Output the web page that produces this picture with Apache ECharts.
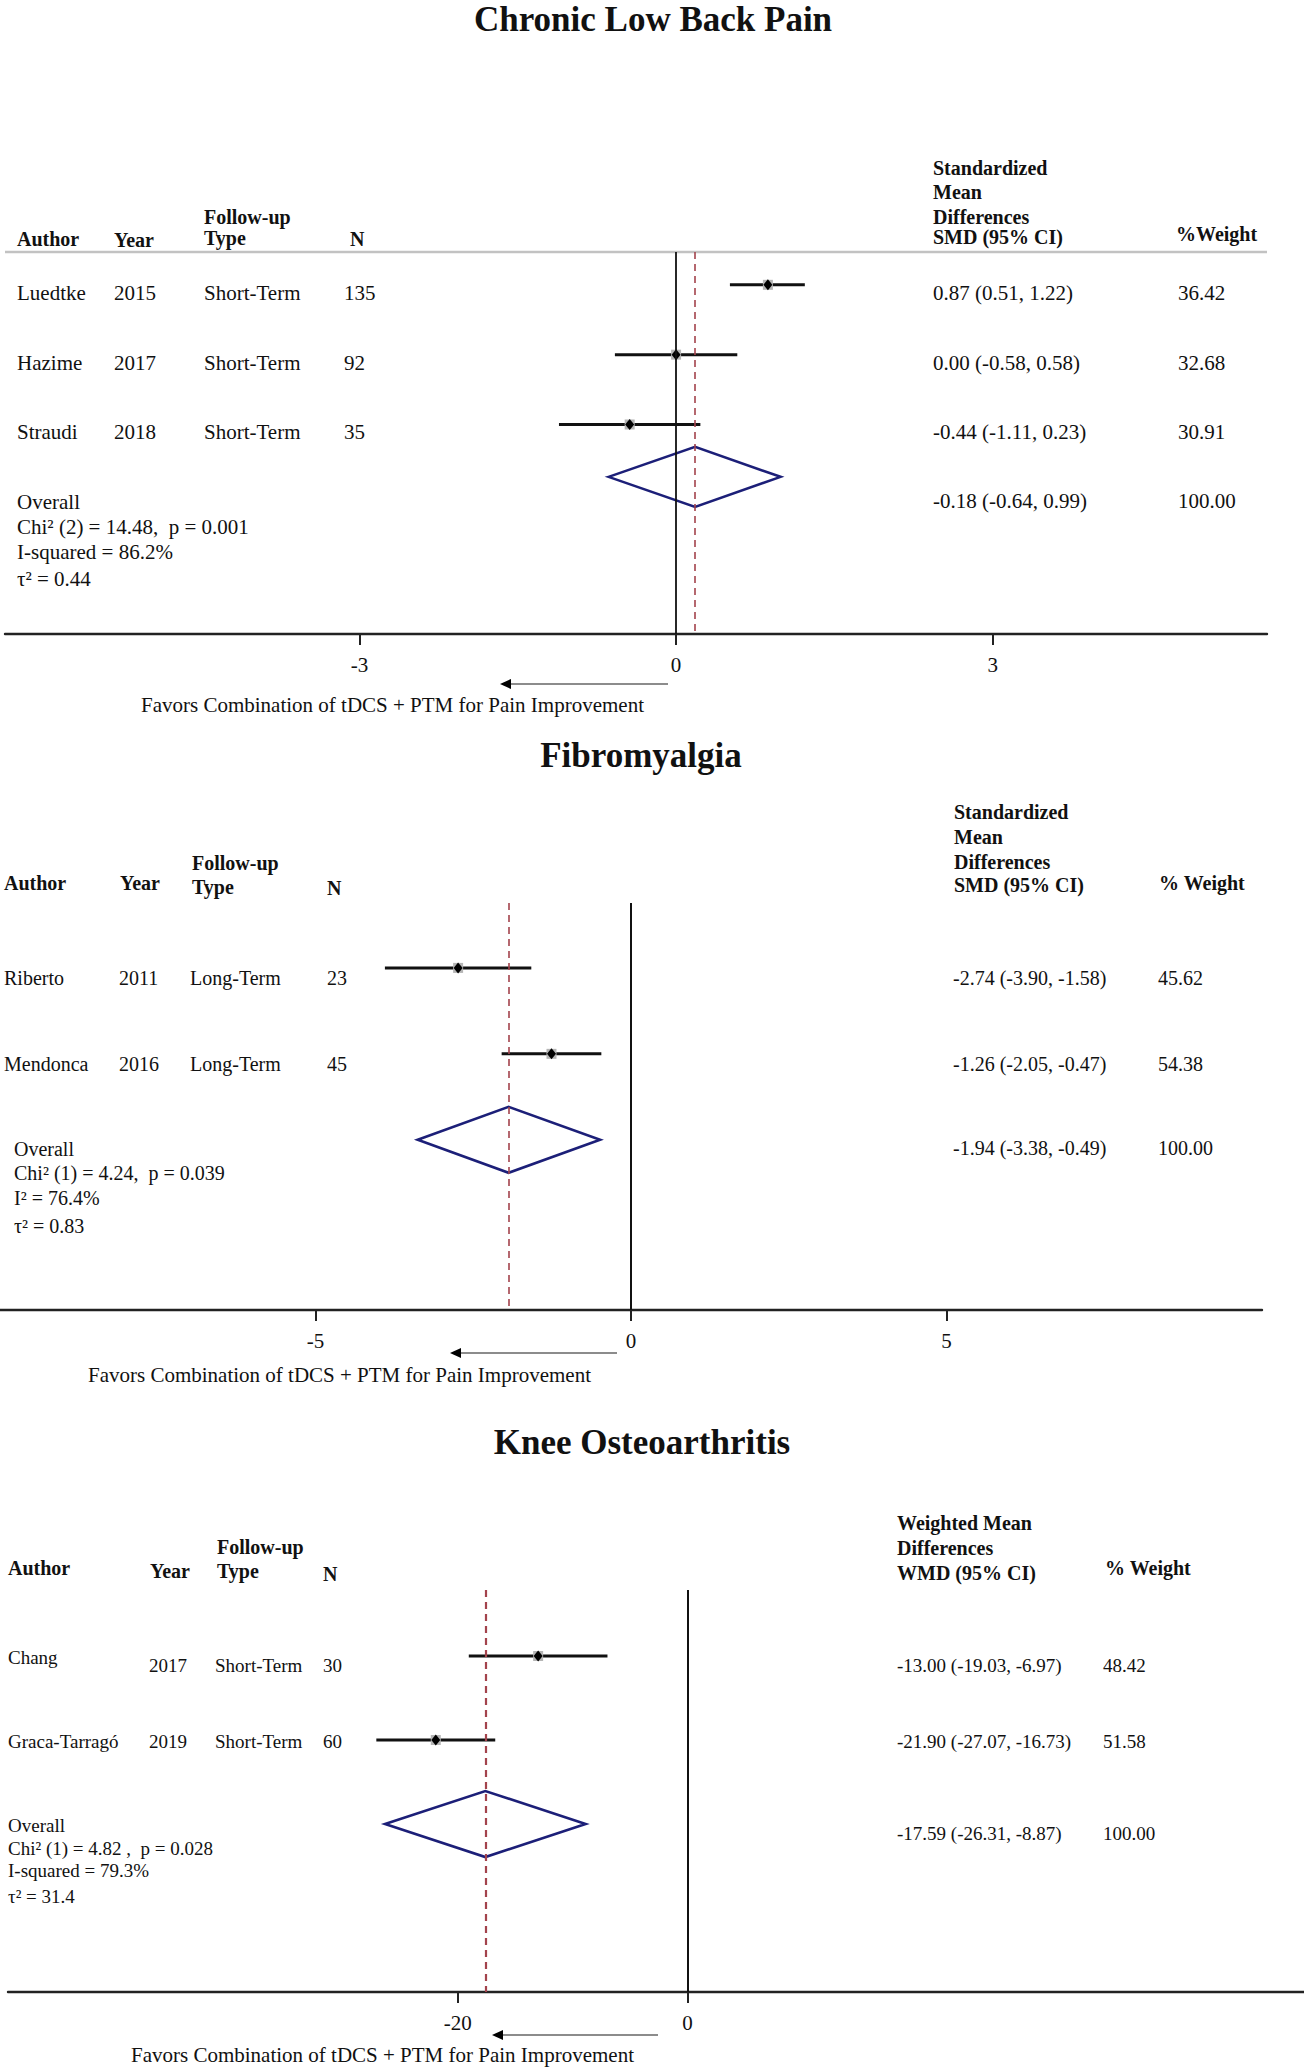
<!DOCTYPE html>
<html>
<head>
<meta charset="utf-8">
<script src="https://cdn.jsdelivr.net/npm/echarts@6/dist/echarts.min.js"></script>
<style>
html,body{margin:0;padding:0;background:#fff;}
#chart{width:1304px;height:2067px;}
</style>
</head>
<body>
<div id="chart"></div>
<script>
// ---------------- DATA ----------------
// Chronic Low Back Pain
const clbpAuthors = ['Luedtke', 'Hazime', 'Straudi'];
const clbpYears = ['2015', '2017', '2018'];
const clbpFollowUp = ['Short-Term', 'Short-Term', 'Short-Term'];
const clbpN = ['135', '92', '35'];
const clbpEffect = [0.87, 0.00, -0.44];
const clbpLower = [0.51, -0.58, -1.11];
const clbpUpper = [1.22, 0.58, 0.23];
const clbpWeight = ['36.42', '32.68', '30.91'];
const clbpPooled = [0.18, -0.64, 0.99];          // as drawn: estimate, lower, upper
const clbpPooledLabel = '-0.18 (-0.64, 0.99)';
const clbpPooledWeight = '100.00';
const clbpStats = ['Chi\u00B2 (2) = 14.48,  p = 0.001', 'I-squared = 86.2%', '\u03C4\u00B2 = 0.44'];
const clbpTicks = [-3, 0, 3];

// Fibromyalgia
const fmAuthors = ['Riberto', 'Mendonca'];
const fmYears = ['2011', '2016'];
const fmFollowUp = ['Long-Term', 'Long-Term'];
const fmN = ['23', '45'];
const fmEffect = [-2.74, -1.26];
const fmLower = [-3.90, -2.05];
const fmUpper = [-1.58, -0.47];
const fmWeight = ['45.62', '54.38'];
const fmPooled = [-1.94, -3.38, -0.49];
const fmPooledLabel = '-1.94 (-3.38, -0.49)';
const fmPooledWeight = '100.00';
const fmStats = ['Chi\u00B2 (1) = 4.24,  p = 0.039', 'I\u00B2 = 76.4%', '\u03C4\u00B2 = 0.83'];
const fmTicks = [-5, 0, 5];

// Knee Osteoarthritis
const koaAuthors = ['Chang', 'Graca-Tarrag\u00F3'];
const koaYears = ['2017', '2019'];
const koaFollowUp = ['Short-Term', 'Short-Term'];
const koaN = ['30', '60'];
const koaEffect = [-13.00, -21.90];
const koaLower = [-19.03, -27.07];
const koaUpper = [-6.97, -16.73];
const koaWeight = ['48.42', '51.58'];
const koaPooled = [-17.59, -26.31, -8.87];
const koaPooledLabel = '-17.59 (-26.31, -8.87)';
const koaPooledWeight = '100.00';
const koaStats = ['Chi\u00B2 (1) = 4.82 ,  p = 0.028', 'I-squared = 79.3%', '\u03C4\u00B2 = 31.4'];
const koaTicks = [-20, 0];

// ---------------- LAYOUT ----------------
const FONT = '"Liberation Serif", "Times New Roman", serif';
const fmt = v => v.toFixed(2);

const panels = [
  {
    title: 'Chronic Low Back Pain', titleX: 653, titleY: 19,
    authors: clbpAuthors, years: clbpYears, types: clbpFollowUp, ns: clbpN,
    effect: clbpEffect, lower: clbpLower, upper: clbpUpper, weight: clbpWeight,
    pooled: clbpPooled, pooledLabel: clbpPooledLabel, pooledWeight: clbpPooledWeight,
    stats: clbpStats, ticks: clbpTicks,
    grid: {left: 5, right: 37, top: 252, bottom: 1433},
    xMin: -6.36, xMax: 5.60, yMin: 0.53, yMax: 6.0,
    rows: [1, 2, 3], pooledRow: 3.75,
    cols: {author: 17, year: 114, type: 204, n: 344, ci: 933, weight: 1178}, overallX: 17,
    font: 21, authorDy: [8, 8, 8], rowDy: [8, 8, 8],
    pooledDy: 25, pooledRightDy: 24, statsDy: [50, 75, 102], diamondH: 30,
    dashWidth: 1.6, zeroWidth: 1.8,
    header: [['Author', 17, 239], ['Year', 114, 240], ['Follow-up', 204, 217], ['Type', 204, 238],
             ['N', 350, 239], ['Standardized', 933, 168], ['Mean', 933, 192], ['Differences', 933, 217],
             ['SMD (95% CI)', 933, 237], ['%Weight', 1176, 234]],
    arrow: {x1: 668, x2: 500, y: 684}, favors: {x: 141, y: 705}
  },
  {
    title: 'Fibromyalgia', titleX: 641, titleY: 755,
    authors: fmAuthors, years: fmYears, types: fmFollowUp, ns: fmN,
    effect: fmEffect, lower: fmLower, upper: fmUpper, weight: fmWeight,
    pooled: fmPooled, pooledLabel: fmPooledLabel, pooledWeight: fmPooledWeight,
    stats: fmStats, ticks: fmTicks,
    grid: {left: 0, right: 42, top: 903, bottom: 757},
    xMin: -10, xMax: 10, yMin: 0.245, yMax: 4.98,
    rows: [1, 2], pooledRow: 3,
    cols: {author: 4, year: 119, type: 190, n: 327, ci: 953, weight: 1158}, overallX: 14,
    font: 20, authorDy: [10, 10], rowDy: [10, 10],
    pooledDy: 9, pooledRightDy: 8, statsDy: [33, 58, 86], diamondH: 33,
    dashWidth: 1.6, zeroWidth: 2,
    header: [['Author', 4, 883], ['Year', 120, 883], ['Follow-up', 192, 863], ['Type', 192, 887],
             ['N', 327, 888], ['Standardized', 954, 812], ['Mean', 954, 837], ['Differences', 954, 862],
             ['SMD (95% CI)', 954, 885], ['% Weight', 1159, 883]],
    arrow: {x1: 617, x2: 450, y: 1353}, favors: {x: 88, y: 1375}
  },
  {
    title: 'Knee Osteoarthritis', titleX: 642, titleY: 1442,
    authors: koaAuthors, years: koaYears, types: koaFollowUp, ns: koaN,
    effect: koaEffect, lower: koaLower, upper: koaUpper, weight: koaWeight,
    pooled: koaPooled, pooledLabel: koaPooledLabel, pooledWeight: koaPooledWeight,
    stats: koaStats, ticks: koaTicks,
    grid: {left: 8, right: 0, top: 1590, bottom: 75},
    xMin: -59.1, xMax: 53.6, yMin: 0.214, yMax: 5.0,
    rows: [1, 2], pooledRow: 3,
    cols: {author: 8, year: 149, type: 215, n: 323, ci: 897, weight: 1103}, overallX: 8,
    font: 19, authorDy: [1, 1], rowDy: [9, 1],
    pooledDy: 1, pooledRightDy: 9, statsDy: [24, 46, 72], diamondH: 33,
    dashWidth: 2.2, zeroWidth: 2,
    header: [['Author', 8, 1568], ['Year', 150, 1571], ['Follow-up', 217, 1547], ['Type', 217, 1571],
             ['N', 323, 1574], ['Weighted Mean', 897, 1523], ['Differences', 897, 1548],
             ['WMD (95% CI)', 897, 1573], ['% Weight', 1105, 1568]],
    arrow: {x1: 658, x2: 492, y: 2035}, favors: {x: 131, y: 2055}
  }
];

// ---------------- BUILD ----------------
function txt(text, x, y, size, bold, align) {
  return {
    type: 'text',
    style: {
      text: text, x: x, y: y, fill: '#111',
      font: (bold ? 'bold ' : '') + size + 'px ' + FONT,
      align: align || 'left', verticalAlign: 'middle'
    }
  };
}

const grids = [], xAxes = [], yAxes = [], series = [], graphics = [];

panels.forEach((P, k) => {
  grids.push(Object.assign({containLabel: false}, P.grid));
  xAxes.push({
    gridIndex: k, type: 'value', min: P.xMin, max: P.xMax,
    axisLine: {show: true, onZero: false, lineStyle: {color: '#222', width: 2.4}},
    axisTick: {show: true, customValues: P.ticks, length: 11, lineStyle: {color: '#222', width: 2}},
    axisLabel: {show: true, customValues: P.ticks, margin: 20, fontSize: 21, fontFamily: FONT, color: '#111'},
    splitLine: {show: false}
  });
  yAxes.push({gridIndex: k, type: 'value', inverse: true, min: P.yMin, max: P.yMax, show: false});

  const studyData = P.effect.map((e, i) => [e, P.lower[i], P.upper[i], P.rows[i]]);

  series.push({
    type: 'custom', xAxisIndex: k, yAxisIndex: k, silent: true, animation: false,
    encode: {x: [0, 1, 2], y: 3},
    data: studyData,
    renderItem: function (params, api) {
      const i = params.dataIndex;
      const pt = api.coord([api.value(0), api.value(3)]);
      const lo = api.coord([api.value(1), api.value(3)]);
      const hi = api.coord([api.value(2), api.value(3)]);
      const y = pt[1];
      const dy = P.rowDy[i], ady = P.authorDy[i];
      return {
        type: 'group',
        children: [
          {type: 'line', shape: {x1: lo[0], y1: y, x2: hi[0], y2: y}, style: {stroke: '#111', lineWidth: 3}},
          {type: 'rect', shape: {x: pt[0] - 5, y: y - 5, width: 10, height: 10}, style: {fill: '#b5b5b5'}},
          {type: 'polygon', shape: {points: [[pt[0] - 4.5, y], [pt[0], y - 5.5], [pt[0] + 4.5, y], [pt[0], y + 5.5]]}, style: {fill: '#000'}},
          txt(P.authors[i], P.cols.author, y + ady, P.font),
          txt(P.years[i], P.cols.year, y + dy, P.font),
          txt(P.types[i], P.cols.type, y + dy, P.font),
          txt(P.ns[i], P.cols.n, y + dy, P.font),
          txt(fmt(P.effect[i]) + ' (' + fmt(P.lower[i]) + ', ' + fmt(P.upper[i]) + ')', P.cols.ci, y + dy, P.font),
          txt(P.weight[i], P.cols.weight, y + dy, P.font)
        ]
      };
    },
    markLine: {
      silent: true, symbol: ['none', 'none'], animation: false,
      label: {show: false},
      data: [
        {yAxis: P.yMin, lineStyle: {color: '#c2c2c2', width: 2.4, type: 'solid'}},
        {xAxis: 0, lineStyle: {color: '#111', width: P.zeroWidth, type: 'solid'}},
        {xAxis: P.pooled[0], lineStyle: {color: '#a3434c', width: P.dashWidth, type: [7, 5]}}
      ]
    },
    z: 3
  });

  series.push({
    type: 'custom', xAxisIndex: k, yAxisIndex: k, silent: true, animation: false,
    encode: {x: [0, 1, 2], y: 3},
    data: [[P.pooled[0], P.pooled[1], P.pooled[2], P.pooledRow]],
    renderItem: function (params, api) {
      const c = api.coord([api.value(0), api.value(3)]);
      const lo = api.coord([api.value(1), api.value(3)]);
      const hi = api.coord([api.value(2), api.value(3)]);
      const y = c[1], h = P.diamondH;
      const children = [
        {type: 'polygon', shape: {points: [[lo[0], y], [c[0], y - h], [hi[0], y], [c[0], y + h]]},
         style: {fill: 'none', stroke: '#1c1f78', lineWidth: 2.6}},
        txt('Overall', P.overallX, y + P.pooledDy, P.font),
        txt(P.pooledLabel, P.cols.ci, y + P.pooledRightDy, P.font),
        txt(P.pooledWeight, P.cols.weight, y + P.pooledRightDy, P.font)
      ];
      P.stats.forEach((s, j) => children.push(txt(s, P.overallX, y + P.statsDy[j], P.font)));
      return {type: 'group', children: children};
    },
    z: 4
  });

  // titles, headers, arrows, footnote
  graphics.push(txt(P.title, P.titleX, P.titleY, 35, true, 'center'));
  P.header.forEach(hd => graphics.push(txt(hd[0], hd[1], hd[2], 20, true)));
  graphics.push({type: 'line', shape: {x1: P.arrow.x1, y1: P.arrow.y, x2: P.arrow.x2 + 8, y2: P.arrow.y},
                 style: {stroke: '#8c8c8c', lineWidth: 2}});
  graphics.push({type: 'polygon', shape: {points: [[P.arrow.x2, P.arrow.y], [P.arrow.x2 + 11, P.arrow.y - 5], [P.arrow.x2 + 11, P.arrow.y + 5]]},
                 style: {fill: '#000'}});
  graphics.push(txt('Favors Combination of tDCS + PTM for Pain Improvement', P.favors.x, P.favors.y, 21, false));
});

const chart = echarts.init(document.getElementById('chart'), null, {renderer: 'svg', width: 1304, height: 2067});
chart.setOption({
  backgroundColor: '#fff',
  animation: false,
  grid: grids,
  xAxis: xAxes,
  yAxis: yAxes,
  series: series,
  graphic: {elements: graphics}
});
</script>
</body>
</html>
